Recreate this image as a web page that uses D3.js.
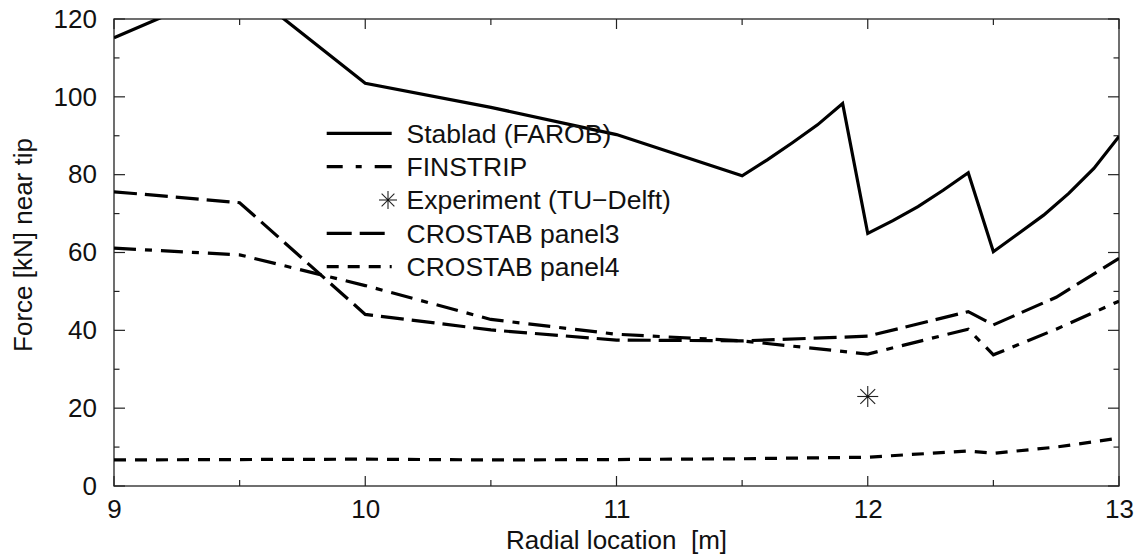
<!DOCTYPE html>
<html><head><meta charset="utf-8">
<script src="https://cdn.jsdelivr.net/npm/d3@7"></script>
<style>
html,body{margin:0;padding:0;background:#fff;}
text{font-family:"Liberation Sans",Arial,Helvetica,sans-serif;fill:#111;}
</style></head>
<body><svg id="c" width="1143" height="557"></svg>
<script>
// ---- data ----
const xTicks = [9, 10, 11, 12, 13];
const yTicks = [0, 20, 40, 60, 80, 100, 120];
const stabladX = [9, 9.5, 10, 10.5, 11, 11.5, 11.6, 11.7, 11.8, 11.9, 12.0, 12.1, 12.2, 12.3, 12.4, 12.5, 12.6, 12.7, 12.8, 12.9, 13.0];
const stabladY = [115.2, 129, 103.5, 97.3, 90.3, 79.7, 83.8, 88.2, 92.8, 98.3, 64.9, 68.2, 71.8, 76.0, 80.5, 60.2, 64.9, 69.6, 75.2, 81.6, 89.8];
const finstripX = [9, 9.5, 10, 10.5, 11, 11.5, 12, 12.4, 12.5, 12.75, 13];
const finstripY = [61.1, 59.4, 51.5, 42.8, 39.0, 37.3, 33.9, 40.3, 33.7, 40.3, 47.5];
const panel3X = [9, 9.5, 10, 10.5, 11, 11.5, 12, 12.4, 12.5, 12.75, 13];
const panel3Y = [75.6, 72.8, 44.1, 40.1, 37.5, 37.3, 38.5, 44.8, 41.4, 48.5, 58.5];
const panel4X = [9, 9.5, 10, 10.5, 11, 11.5, 12, 12.4, 12.5, 12.75, 13];
const panel4Y = [6.7, 6.8, 6.9, 6.7, 6.8, 7.0, 7.4, 9.0, 8.4, 10.0, 12.3];
const experimentX = [12];
const experimentY = [23];
const legendLabels = ["Stablad (FAROB)", "FINSTRIP", "Experiment (TU\u2212Delft)", "CROSTAB panel3", "CROSTAB panel4"];

// ---- layout ----
const L = 114, R = 1119, T = 19, B = 486;
const svg = d3.select("#c");
const x = d3.scaleLinear().domain([9, 13]).range([L, R]);
const y = d3.scaleLinear().domain([0, 120]).range([B, T]);

svg.append("clipPath").attr("id", "clip").append("rect")
  .attr("x", L).attr("y", T).attr("width", R - L).attr("height", B - T);

const frameColor = "#222";
const xMajor = xTicks, xMinor = d3.range(9.5, 13, 1);
const yMajor = yTicks, yMinor = d3.range(10, 120, 20);
const tg = svg.append("g").attr("stroke", frameColor).attr("stroke-width", 1.2);
function vt(v, len) {
  tg.append("line").attr("x1", x(v)).attr("x2", x(v)).attr("y1", B).attr("y2", B - len);
  tg.append("line").attr("x1", x(v)).attr("x2", x(v)).attr("y1", T).attr("y2", T + len);
}
function ht(v, len) {
  tg.append("line").attr("y1", y(v)).attr("y2", y(v)).attr("x1", L).attr("x2", L + len);
  tg.append("line").attr("y1", y(v)).attr("y2", y(v)).attr("x1", R).attr("x2", R - len);
}
xMajor.forEach(v => vt(v, 10)); xMinor.forEach(v => vt(v, 6));
yMajor.forEach(v => ht(v, 11)); yMinor.forEach(v => ht(v, 5.5));

const xAxis = svg.append("g").attr("transform", `translate(0,${B})`)
  .call(d3.axisBottom(x).tickValues(xTicks).tickFormat(d3.format("d")).tickSize(0).tickPadding(14));
const yAxis = svg.append("g").attr("transform", `translate(${L},0)`)
  .call(d3.axisLeft(y).tickValues(yTicks).tickFormat(d3.format("d")).tickSize(0).tickPadding(17));
[xAxis, yAxis].forEach(a => {
  a.select(".domain").remove();
  a.selectAll("text").attr("font-size", 26).attr("font-family", '"Liberation Sans",Arial,sans-serif').attr("fill", "#111");
});

svg.append("rect").attr("x", L).attr("y", T).attr("width", R - L).attr("height", B - T)
  .attr("fill", "none").attr("stroke", frameColor).attr("stroke-width", 1.3);

svg.append("text").attr("x", (L + R) / 2).attr("y", 549).attr("text-anchor", "middle")
  .attr("font-size", 26).text("Radial location\u00a0\u00a0[m]");
svg.append("text").attr("transform", "translate(32,245) rotate(-90)").attr("text-anchor", "middle")
  .attr("font-size", 26).text("Force [kN] near tip");

const line = d3.line().x(d => x(d[0])).y(d => y(d[1]));
const plot = svg.append("g").attr("clip-path", "url(#clip)");
const series = [
  {xs: stabladX, ys: stabladY, dash: null},
  {xs: finstripX, ys: finstripY, dash: "22,9,7,9"},
  {xs: panel3X, ys: panel3Y, dash: "23,8"},
  {xs: panel4X, ys: panel4Y, dash: "12,9"}
];
series.forEach(s => {
  plot.append("path").datum(d3.zip(s.xs, s.ys)).attr("d", line)
    .attr("fill", "none").attr("stroke", "#000").attr("stroke-width", 3.2)
    .attr("stroke-linejoin", "miter").attr("stroke-dasharray", s.dash);
});

function star(g, cx, cy, r) {
  const p = g.append("g").attr("stroke", "#222").attr("stroke-width", 1.1);
  const d = r * Math.SQRT1_2;
  p.append("line").attr("x1", cx - r).attr("x2", cx + r).attr("y1", cy).attr("y2", cy);
  p.append("line").attr("x1", cx).attr("x2", cx).attr("y1", cy - r).attr("y2", cy + r);
  p.append("line").attr("x1", cx - d).attr("x2", cx + d).attr("y1", cy - d).attr("y2", cy + d);
  p.append("line").attr("x1", cx - d).attr("x2", cx + d).attr("y1", cy + d).attr("y2", cy - d);
  p.append("circle").attr("cx", cx).attr("cy", cy).attr("r", 1.2).attr("fill", "#111").attr("stroke", "none");
}
d3.zip(experimentX, experimentY).forEach(d => star(plot, x(d[0]), y(d[1]), 10.5));

const lg = svg.append("g");
const legY0 = 133.3, legDy = 33.35;
const legDash = [null, "16,13,6,13,17", "star", "25,8,25,8,2,20", "12,9,12,9,12,9,2,20"];
legendLabels.forEach((lab, i) => {
  const yy = legY0 + i * legDy;
  if (legDash[i] === "star") {
    star(lg, 388, yy, 9);
  } else {
    lg.append("line").attr("x1", 326.7).attr("x2", 391.7).attr("y1", yy).attr("y2", yy)
      .attr("stroke", "#000").attr("stroke-width", 3.2).attr("stroke-dasharray", legDash[i]);
  }
  lg.append("text").attr("x", 406.5).attr("y", yy + 9.4).attr("font-size", 26.5).text(lab);
});
</script></body></html>
